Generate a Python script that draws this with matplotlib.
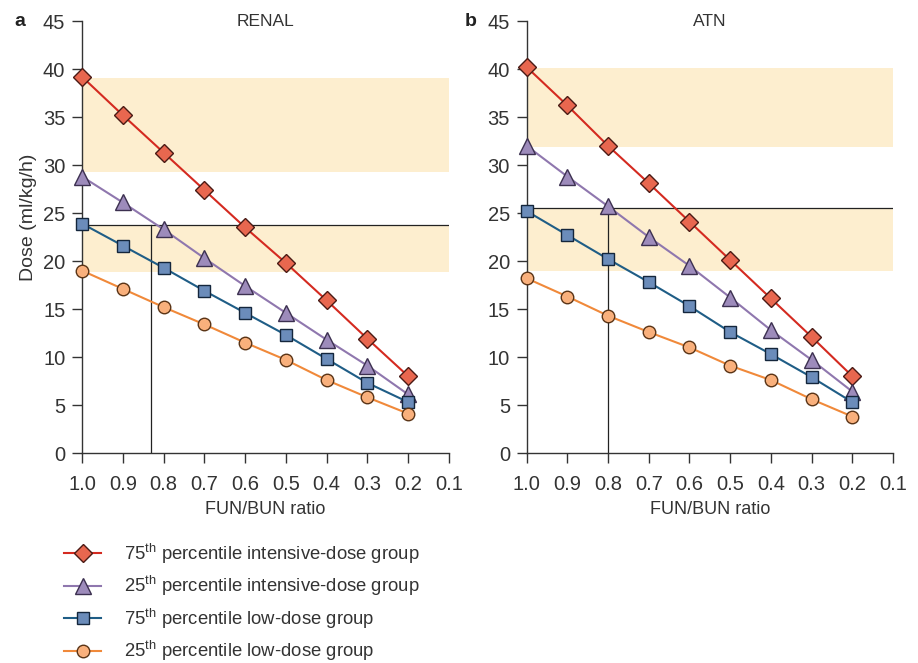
import matplotlib
matplotlib.use("Agg")
import matplotlib.pyplot as plt

plt.rcParams['font.family'] = ['Liberation Sans', 'DejaVu Sans']
plt.rcParams['mathtext.fontset'] = 'custom'
plt.rcParams['mathtext.rm'] = 'Liberation Sans'

# FUN/BUN ratio points
ratio = [1.0, 0.9, 0.8, 0.7, 0.6, 0.5, 0.4, 0.3, 0.2]
xticks = [1.0, 0.9, 0.8, 0.7, 0.6, 0.5, 0.4, 0.3, 0.2, 0.1]
yticks = [0, 5, 10, 15, 20, 25, 30, 35, 40, 45]

# RENAL
renal_int75 = [39.2, 35.2, 31.3, 27.4, 23.5, 19.8, 15.9, 11.9, 8.0]
renal_int25 = [28.8, 26.1, 23.3, 20.3, 17.4, 14.6, 11.8, 9.1, 6.1]
renal_low75 = [23.9, 21.6, 19.3, 16.9, 14.6, 12.3, 9.8, 7.3, 5.3]
renal_low25 = [19.0, 17.1, 15.2, 13.4, 11.5, 9.7, 7.6, 5.8, 4.1]
renal_bands = [(29.3, 39.1), (18.9, 23.8)]
renal_ref = (0.83, 23.8)

# ATN
atn_int75 = [40.2, 36.2, 32.0, 28.1, 24.1, 20.1, 16.1, 12.1, 8.0]
atn_int25 = [32.0, 28.8, 25.7, 22.5, 19.5, 16.2, 12.8, 9.7, 6.4]
atn_low75 = [25.2, 22.7, 20.2, 17.8, 15.3, 12.6, 10.3, 7.9, 5.3]
atn_low25 = [18.2, 16.3, 14.3, 12.6, 11.0, 9.1, 7.6, 5.6, 3.8]
atn_bands = [(31.9, 40.1), (19.0, 25.5)]
atn_ref = (0.8, 25.5)

labels = [
    "75$^{\\rm th}$ percentile intensive-dose group",
    "25$^{\\rm th}$ percentile intensive-dose group",
    "75$^{\\rm th}$ percentile low-dose group",
    "25$^{\\rm th}$ percentile low-dose group",
]

styles = [
    dict(color="#d42a20", marker="D", mfc="#e8674f", mec="#4a1a14", ms=9.5),
    dict(color="#8f77ae", marker="^", mfc="#9d8bbb", mec="#3c3050", ms=11),
    dict(color="#1f5d86", marker="s", mfc="#6b8cba", mec="#14263c", ms=8.5),
    dict(color="#f0893a", marker="o", mfc="#f9b07c", mec="#5a3416", ms=9),
]

band_color = "#fdeecf"
ink = "#333333"


def draw_panel(ax, series, bands, ref, title, tag, tag_x):
    for lo, hi in bands:
        ax.axhspan(lo, hi, color=band_color, lw=0, zorder=0)
    rx, ry = ref
    ax.plot([1.0, 0.1], [ry, ry], color="#222222", lw=0.9, zorder=1)
    ax.plot([rx, rx], [0, ry], color="#222222", lw=0.9, zorder=1)
    lines = []
    for values, st, lab in zip(series, styles, labels):
        ln, = ax.plot(ratio, values, lw=1.5, mew=1.0, label=lab, zorder=3,
                      clip_on=False, **st)
        lines.append(ln)
    ax.set_xlim(1.0, 0.1)
    ax.set_ylim(0, 45)
    ax.set_xticks(xticks)
    ax.set_xticklabels([f"{v:.1f}" for v in xticks])
    ax.set_yticks(yticks)
    ax.spines['top'].set_visible(False)
    ax.spines['right'].set_visible(False)
    for s in ('left', 'bottom'):
        ax.spines[s].set_color(ink)
        ax.spines[s].set_linewidth(1.0)
    ax.tick_params(length=7, width=1.0, color=ink, labelsize=14.5,
                   labelcolor=ink)
    ax.tick_params(axis='x', pad=9)
    ax.tick_params(axis='y', pad=5)
    ax.set_xlabel("FUN/BUN ratio", fontsize=13, color=ink, labelpad=5)
    ax.text(0.5, 1.0, title, transform=ax.transAxes, fontsize=12.5,
            color=ink, ha="center", va="center")
    ax.text(tag_x, 1.0, tag, transform=ax.transAxes, fontsize=14,
            fontweight="bold", ha="left", va="center", color="#222222")
    return lines


fig = plt.figure(figsize=(9.18, 6.63), dpi=100)
ax_a = fig.add_axes([0.0893, 0.3167, 0.3998, 0.6516])
ax_b = fig.add_axes([0.5737, 0.3167, 0.3991, 0.6516])

handles = draw_panel(ax_a, [renal_int75, renal_int25, renal_low75, renal_low25],
                     renal_bands, renal_ref, "RENAL", "a", -0.183)
draw_panel(ax_b, [atn_int75, atn_int25, atn_low75, atn_low25],
           atn_bands, atn_ref, "ATN", "b", -0.17)
ax_a.set_ylabel("Dose (ml/kg/h)", fontsize=14, color=ink)
ax_a.yaxis.set_label_coords(-0.122, 0.546)

fig.legend(handles=handles, loc="upper left", bbox_to_anchor=(0.07, 0.183),
           frameon=False, fontsize=13.3, handlelength=2.0, labelspacing=0.45,
           handletextpad=1.25, labelcolor=ink, borderaxespad=0, borderpad=0)

fig.savefig("out.png", dpi=100)
